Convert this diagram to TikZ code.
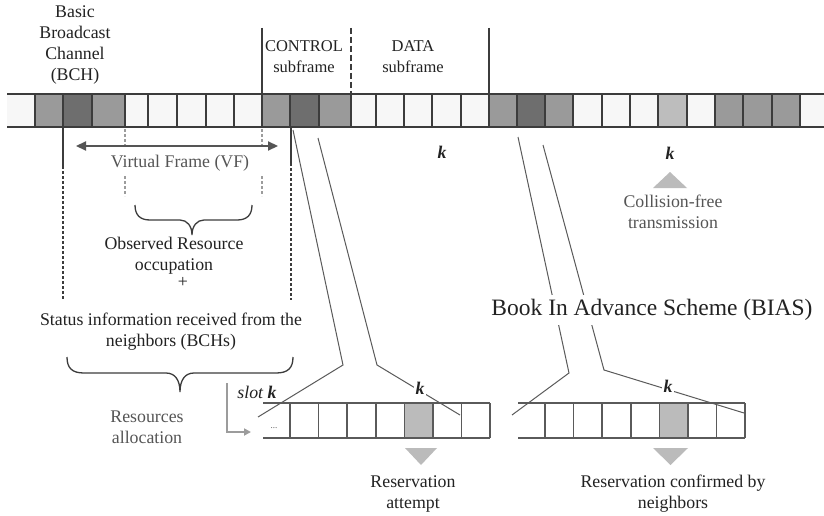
\documentclass[tikz,border=0pt]{standalone}
\usepackage{fontspec}
\setmainfont{Liberation Serif}
\usetikzlibrary{arrows.meta}
\definecolor{barline}{HTML}{3C3C3C}
\definecolor{midgray}{HTML}{9A9A9A}
\definecolor{darkcell}{HTML}{6E6E6E}
\definecolor{lightcell}{HTML}{BDBDBD}
\definecolor{whitecell}{HTML}{F7F7F7}
\definecolor{txt}{HTML}{222222}
\definecolor{gtxt}{HTML}{555555}
\definecolor{thinline}{HTML}{5A5A5A}
\definecolor{trig}{HTML}{BBBBBB}
\definecolor{lightdash}{HTML}{9C9C9C}
\begin{document}
\begin{tikzpicture}[x=1pt,y=-1pt,
  every node/.style={font=\fontsize{17.8}{21}\selectfont, text=txt, inner sep=1pt},
  label/.style={align=center},
  glabel/.style={align=center, text=gtxt},
  klabel/.style={font=\fontsize{17.8}{21}\selectfont\bfseries\itshape, fill=white, inner sep=1.5pt},
  barrule/.style={draw=barline, line width=2.6pt},
  cellrule/.style={draw=barline, line width=1.8pt},
  bigsep/.style={draw=barline, line width=2.4pt},
  frameedge/.style={draw=barline, line width=2.2pt},
  frameedgedash/.style={draw=barline, line width=2.2pt, dash pattern=on 3pt off 2pt},
  shortdash/.style={draw=lightdash, line width=1.4pt, dash pattern=on 3pt off 2pt},
  funnel/.style={draw=thinline, line width=1pt},
  brace/.style={draw=barline, line width=1.3pt},
  smallbar/.style={draw=thinline, line width=1.6pt},
  tri/.style={fill=trig}
]
\useasboundingbox (0,0) rectangle (824,516);
\fill[white] (0,0) rectangle (824,516);

% ---- top bar cells
\foreach \a/\b/\c in {7/35/whitecell,35/63/midgray,63/92/darkcell,92/125/midgray,
  125/148/whitecell,148/177/whitecell,177/206/whitecell,206/234/whitecell,234/262/whitecell,
  262/290/midgray,290/319/darkcell,319/351/midgray,
  351/376/whitecell,376/404/whitecell,404/432/whitecell,432/461/whitecell,461/489/whitecell,
  489/517/midgray,517/545/darkcell,545/573/midgray,
  573/602/whitecell,602/630/whitecell,630/658/whitecell,658/687/lightcell,687/715/whitecell,
  715/743/midgray,743/772/midgray,772/800/midgray,800/824/whitecell}
  \fill[\c] (\a,94) rectangle (\b,127);
\foreach \x in {35,63,92,125,148,177,206,234,262,290,319,351,376,404,432,461,489,517,545,573,602,630,658,687,715,743,772,800}
  \draw[cellrule] (\x,94) -- (\x,127);
\draw[barrule] (7,94) -- (824,94);
\draw[barrule] (7,127) -- (824,127);

% ---- subframe separators above the bar
\coordinate (s1t) at (262,28); \coordinate (s1b) at (262,94);
\coordinate (s2t) at (351,28); \coordinate (s2b) at (351,94);
\coordinate (s3t) at (489,28); \coordinate (s3b) at (489,94);
\draw[bigsep] (s1t) -- (s1b);
\draw[bigsep, dash pattern=on 6pt off 3pt] (s2t) -- (s2b);
\draw[bigsep] (s3t) -- (s3b);

% ---- frame edges below bar
\coordinate (e1a) at (63,127); \coordinate (e1b) at (63,166); \coordinate (e1c) at (63,300);
\coordinate (e2a) at (291,127); \coordinate (e2b) at (291,163); \coordinate (e2c) at (291,300);
\draw[frameedge] (e1a) -- (e1b);
\draw[frameedgedash] (e1b) -- (e1c);
\draw[frameedge] (e2a) -- (e2b);
\draw[frameedgedash] (e2b) -- (e2c);

% ---- short light dashes
\draw[shortdash] (125,129) -- (125,145);
\draw[shortdash] (262,129) -- (262,145);
\draw[shortdash] (125,176) -- (125,196);
\draw[shortdash] (262,176) -- (262,196);

% ---- Virtual frame arrow
\coordinate (vfL) at (76,146); \coordinate (vfR) at (278,146);
\draw[draw=gtxt, line width=2.2pt, {Triangle[length=10pt,width=9pt]}-{Triangle[length=10pt,width=9pt]}] (vfL) -- (vfR);
\node[glabel] (vf) at (180,163) {Virtual Frame (VF)};

% ---- labels top
\node[label] (bch) at (75,45) {Basic\\Broadcast\\Channel\\(BCH)};
\node[label, font=\fontsize{16.5}{21}\selectfont] (ctrl) at (304,57) {CONTROL\\subframe};
\node[label, font=\fontsize{16.5}{21}\selectfont] (data) at (413,57) {DATA\\subframe};
\node[klabel] (kmid) at (442,152) {k};
\node[klabel] (kright) at (670,153) {k};

% ---- collision-free triangle
\fill[tri] (653,188) -- (687,188) -- (670,172) -- cycle;
\node[glabel] (cf) at (673,212) {Collision-free\\transmission};

% ---- brace 1 and text
\draw[brace] (135,205) .. controls (135,215) and (140,220) .. (150,220) -- (180,220)
  .. controls (187,220) and (192,226) .. (192,235)
  .. controls (192,226) and (197,220) .. (204,220) -- (237,220)
  .. controls (247,220) and (252,215) .. (252,205);
\node[label] (obs) at (174,256) {Observed Resource\\occupation};
\node[label, text height=7pt, text depth=0pt, inner sep=0.5pt] (plus) at (183,284) {+};
\node[label] (status) at (171,332) {Status information received from the\\neighbors (BCHs)};

% ---- brace 2
\draw[brace] (67,357) .. controls (67,368) and (72,373) .. (84,373) -- (166,373)
  .. controls (175,373) and (180,380) .. (180,392)
  .. controls (180,380) and (185,373) .. (194,373) -- (276,373)
  .. controls (288,373) and (293,368) .. (293,357);
\node[glabel] (ralloc) at (147,427) {Resources\\allocation};

% ---- L arrow
\coordinate (la) at (227,383); \coordinate (lb) at (227,432); \coordinate (lc) at (251,432);
\draw[draw=lightdash, line width=1.8pt, -{Triangle[length=7pt,width=7pt]}] (la) -- (lb) -- (lc);
\node[font=\fontsize{17.8}{21}\selectfont\itshape] (slotk) at (257,392) {slot \textbf{k}};

% ---- funnel lines
\coordinate (a1) at (293,130); \coordinate (a2) at (343,365); \coordinate (a3) at (258,417);
\coordinate (b1) at (318,138); \coordinate (b2) at (377,365); \coordinate (b3) at (460,415);
\coordinate (c1) at (518,137); \coordinate (c2) at (569,373); \coordinate (c3) at (512,415);
\coordinate (d1) at (543,145); \coordinate (d2) at (604,370); \coordinate (d3) at (744,413);
\draw[funnel] (a1) -- (a2) -- (a3);
\draw[funnel] (b1) -- (b2) -- (b3);
\draw[funnel] (c1) -- (c2) -- (c3);
\draw[funnel] (d1) -- (d2) -- (d3);

% ---- bottom bar 1
\fill[trig] (404.4,403) rectangle (433,438);
\draw[smallbar] (263,403) -- (490.2,403);
\draw[smallbar] (263,438) -- (490.2,438);
\foreach \x in {290,318.6,347.2,375.8,404.4,433,461.6,490.2}
  \draw[smallbar] (\x,403) -- (\x,438);
\node[font=\fontsize{9}{10}\selectfont, text=gtxt] (dots) at (274,428) {...};
\fill[tri] (405,448) -- (437,448) -- (421,465) -- cycle;
\node[label] (ratt) at (413,494) {Reservation\\attempt};

% ---- bottom bar 2
\fill[trig] (659.4,403) rectangle (688,438);
\draw[smallbar] (518,403) -- (745.2,403);
\draw[smallbar] (518,438) -- (745.2,438);
\foreach \x in {545,573.6,602.2,630.8,659.4,688,716.6,745.2}
  \draw[smallbar] (\x,403) -- (\x,438);
\fill[tri] (653,448) -- (688,448) -- (670.5,465) -- cycle;
\node[label] (rconf) at (673,494) {Reservation confirmed by\\neighbors};

% ---- k labels on funnel lines, BIAS title
\node[klabel] (kb) at (420,388) {k};
\node[klabel] (kd) at (668,386) {k};
\node[fill=white, inner xsep=2pt, inner ysep=4pt, font=\fontsize{23.5}{26}\selectfont] (bias) at (652,310) {Book In Advance Scheme (BIAS)};
\end{tikzpicture}
\end{document}
